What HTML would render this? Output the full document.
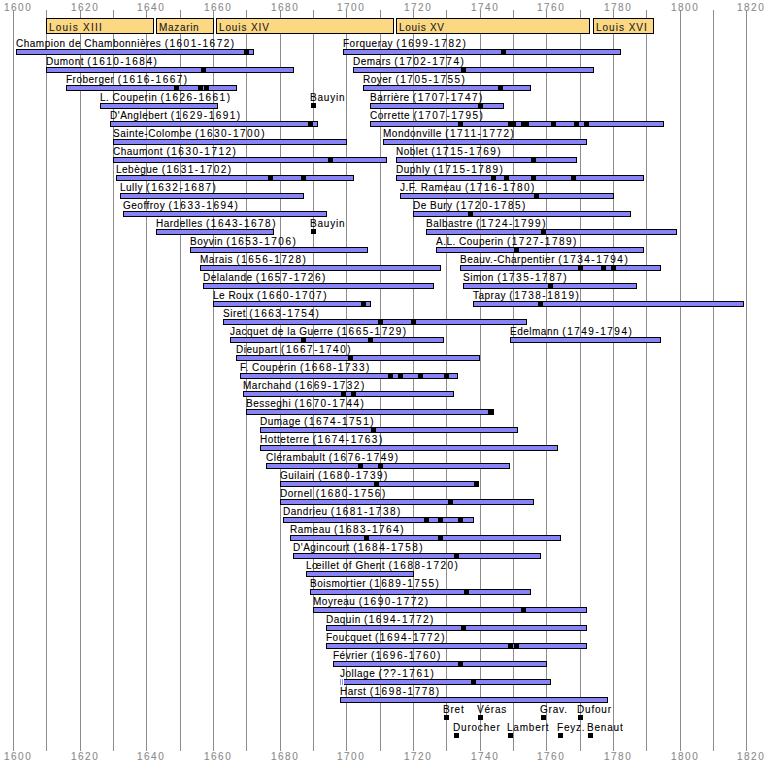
<!DOCTYPE html>
<html><head><meta charset="utf-8"><style>
html,body{margin:0;padding:0;background:#fff;}
body{width:775px;height:769px;position:relative;overflow:hidden;font-family:"Liberation Sans",sans-serif;}
.g{position:absolute;width:1px;background:#8c8c8c;top:10px;height:741px;}
.yl{position:absolute;font-size:10px;line-height:10px;color:#8a8a8a;white-space:nowrap;letter-spacing:1.5px;-webkit-text-stroke:0.1px #8a8a8a}
.rb{position:absolute;top:18px;height:14px;background:#fcd883;border:1px solid #000;}
.rt{position:absolute;font-size:10px;line-height:10px;color:#1a1a1a;white-space:nowrap;top:23px;-webkit-text-stroke:0.1px #1a1a1a}
.b{position:absolute;height:4px;background:#8884f6;border:1px solid #000;}
.l{position:absolute;font-size:10px;line-height:10px;color:#000;white-space:nowrap;letter-spacing:0.5px;-webkit-text-stroke:0.1px #000}
.l span{letter-spacing:1.5px}
.m{position:absolute;width:5px;height:6px;background:#000;}
.s{position:absolute;width:5px;height:5px;background:#000;}
</style></head><body>

<div class="g" style="left:13px"></div>
<div class="g" style="left:46px"></div>
<div class="g" style="left:80px"></div>
<div class="g" style="left:113px"></div>
<div class="g" style="left:146px"></div>
<div class="g" style="left:180px"></div>
<div class="g" style="left:213px"></div>
<div class="g" style="left:246px"></div>
<div class="g" style="left:280px"></div>
<div class="g" style="left:313px"></div>
<div class="g" style="left:346px"></div>
<div class="g" style="left:380px"></div>
<div class="g" style="left:413px"></div>
<div class="g" style="left:446px"></div>
<div class="g" style="left:480px"></div>
<div class="g" style="left:513px"></div>
<div class="g" style="left:546px"></div>
<div class="g" style="left:580px"></div>
<div class="g" style="left:613px"></div>
<div class="g" style="left:646px"></div>
<div class="g" style="left:680px"></div>
<div class="g" style="left:713px"></div>
<div class="g" style="left:746px"></div>
<div class="yl" style="left:4px;top:3px">1600</div>
<div class="yl" style="left:4px;top:752px">1600</div>
<div class="yl" style="left:71px;top:3px">1620</div>
<div class="yl" style="left:71px;top:752px">1620</div>
<div class="yl" style="left:137px;top:3px">1640</div>
<div class="yl" style="left:137px;top:752px">1640</div>
<div class="yl" style="left:204px;top:3px">1660</div>
<div class="yl" style="left:204px;top:752px">1660</div>
<div class="yl" style="left:271px;top:3px">1680</div>
<div class="yl" style="left:271px;top:752px">1680</div>
<div class="yl" style="left:337px;top:3px">1700</div>
<div class="yl" style="left:337px;top:752px">1700</div>
<div class="yl" style="left:404px;top:3px">1720</div>
<div class="yl" style="left:404px;top:752px">1720</div>
<div class="yl" style="left:471px;top:3px">1740</div>
<div class="yl" style="left:471px;top:752px">1740</div>
<div class="yl" style="left:537px;top:3px">1760</div>
<div class="yl" style="left:537px;top:752px">1760</div>
<div class="yl" style="left:604px;top:3px">1780</div>
<div class="yl" style="left:604px;top:752px">1780</div>
<div class="yl" style="left:671px;top:3px">1800</div>
<div class="yl" style="left:671px;top:752px">1800</div>
<div class="yl" style="left:737px;top:3px">1820</div>
<div class="yl" style="left:737px;top:752px">1820</div>
<div class="rb" style="left:46px;width:106px"></div>
<div class="rt" style="left:49px;letter-spacing:1.22px">Louis XIII</div>
<div class="rb" style="left:156px;width:56px"></div>
<div class="rt" style="left:159px;letter-spacing:0.67px">Mazarin</div>
<div class="rb" style="left:216px;width:176px"></div>
<div class="rt" style="left:219px;letter-spacing:0.875px">Louis XIV</div>
<div class="rb" style="left:396px;width:192px"></div>
<div class="rt" style="left:399px;letter-spacing:0.71px">Louis XV</div>
<div class="rb" style="left:593px;width:59px"></div>
<div class="rt" style="left:596px;letter-spacing:1.0px">Louis XVI</div>
<div class="l" style="left:16px;top:39px">Champion de Chambonnières <span>(1601-1672)</span></div>
<div class="b" style="left:16px;top:49px;width:236px"></div>
<div class="m" style="left:244px;top:49px"></div>
<div class="l" style="left:46px;top:57px">Dumont <span>(1610-1684)</span></div>
<div class="b" style="left:46px;top:67px;width:246px"></div>
<div class="m" style="left:201px;top:67px"></div>
<div class="l" style="left:66px;top:75px">Froberger <span>(1616-1667)</span></div>
<div class="b" style="left:66px;top:85px;width:169px"></div>
<div class="m" style="left:174px;top:85px"></div>
<div class="m" style="left:198px;top:85px"></div>
<div class="m" style="left:204px;top:85px"></div>
<div class="l" style="left:100px;top:93px">L. Couperin <span>(1626-1661)</span></div>
<div class="b" style="left:100px;top:103px;width:116px"></div>
<div class="l" style="left:110px;top:111px">D'Anglebert <span>(1629-1691)</span></div>
<div class="b" style="left:110px;top:121px;width:206px"></div>
<div class="m" style="left:308px;top:121px"></div>
<div class="l" style="left:113px;top:129px">Sainte-Colombe <span>(1630-1700)</span></div>
<div class="b" style="left:113px;top:139px;width:232px"></div>
<div class="l" style="left:113px;top:147px">Chaumont <span>(1630-1712)</span></div>
<div class="b" style="left:113px;top:157px;width:272px"></div>
<div class="m" style="left:328px;top:157px"></div>
<div class="l" style="left:116px;top:165px">Lebègue <span>(1631-1702)</span></div>
<div class="b" style="left:116px;top:175px;width:236px"></div>
<div class="m" style="left:268px;top:175px"></div>
<div class="m" style="left:301px;top:175px"></div>
<div class="l" style="left:120px;top:183px">Lully <span>(1632-1687)</span></div>
<div class="b" style="left:120px;top:193px;width:182px"></div>
<div class="l" style="left:123px;top:201px">Geoffroy <span>(1633-1694)</span></div>
<div class="b" style="left:123px;top:211px;width:202px"></div>
<div class="l" style="left:156px;top:219px">Hardelles <span>(1643-1678)</span></div>
<div class="b" style="left:156px;top:229px;width:116px"></div>
<div class="l" style="left:190px;top:237px">Boyvin <span>(1653-1706)</span></div>
<div class="b" style="left:190px;top:247px;width:176px"></div>
<div class="l" style="left:200px;top:255px">Marais <span>(1656-1728)</span></div>
<div class="b" style="left:200px;top:265px;width:239px"></div>
<div class="l" style="left:203px;top:273px">Delalande <span>(1657-1726)</span></div>
<div class="b" style="left:203px;top:283px;width:229px"></div>
<div class="l" style="left:213px;top:291px">Le Roux <span>(1660-1707)</span></div>
<div class="b" style="left:213px;top:301px;width:156px"></div>
<div class="m" style="left:361px;top:301px"></div>
<div class="l" style="left:223px;top:309px">Siret <span>(1663-1754)</span></div>
<div class="b" style="left:223px;top:319px;width:302px"></div>
<div class="m" style="left:378px;top:319px"></div>
<div class="m" style="left:411px;top:319px"></div>
<div class="l" style="left:230px;top:327px">Jacquet de la Guerre <span>(1665-1729)</span></div>
<div class="b" style="left:230px;top:337px;width:212px"></div>
<div class="m" style="left:301px;top:337px"></div>
<div class="m" style="left:368px;top:337px"></div>
<div class="l" style="left:236px;top:345px">Dieupart <span>(1667-1740)</span></div>
<div class="b" style="left:236px;top:355px;width:242px"></div>
<div class="m" style="left:348px;top:355px"></div>
<div class="l" style="left:240px;top:363px">F. Couperin <span>(1668-1733)</span></div>
<div class="b" style="left:240px;top:373px;width:216px"></div>
<div class="m" style="left:388px;top:373px"></div>
<div class="m" style="left:398px;top:373px"></div>
<div class="m" style="left:418px;top:373px"></div>
<div class="m" style="left:444px;top:373px"></div>
<div class="l" style="left:243px;top:381px">Marchand <span>(1669-1732)</span></div>
<div class="b" style="left:243px;top:391px;width:209px"></div>
<div class="m" style="left:341px;top:391px"></div>
<div class="m" style="left:351px;top:391px"></div>
<div class="l" style="left:246px;top:399px">Besseghi <span>(1670-1744)</span></div>
<div class="b" style="left:246px;top:409px;width:246px"></div>
<div class="m" style="left:488px;top:409px"></div>
<div class="l" style="left:260px;top:417px">Dumage <span>(1674-1751)</span></div>
<div class="b" style="left:260px;top:427px;width:256px"></div>
<div class="m" style="left:371px;top:427px"></div>
<div class="l" style="left:260px;top:435px">Hotteterre <span>(1674-1763)</span></div>
<div class="b" style="left:260px;top:445px;width:296px"></div>
<div class="l" style="left:266px;top:453px">Clérambault <span>(1676-1749)</span></div>
<div class="b" style="left:266px;top:463px;width:242px"></div>
<div class="m" style="left:358px;top:463px"></div>
<div class="m" style="left:378px;top:463px"></div>
<div class="l" style="left:280px;top:471px">Guilain <span>(1680-1739)</span></div>
<div class="b" style="left:280px;top:481px;width:197px"></div>
<div class="m" style="left:374px;top:481px"></div>
<div class="m" style="left:474px;top:481px"></div>
<div class="l" style="left:280px;top:489px">Dornel <span>(1680-1756)</span></div>
<div class="b" style="left:280px;top:499px;width:252px"></div>
<div class="m" style="left:448px;top:499px"></div>
<div class="l" style="left:283px;top:507px">Dandrieu <span>(1681-1738)</span></div>
<div class="b" style="left:283px;top:517px;width:189px"></div>
<div class="m" style="left:424px;top:517px"></div>
<div class="m" style="left:438px;top:517px"></div>
<div class="m" style="left:458px;top:517px"></div>
<div class="l" style="left:290px;top:525px">Rameau <span>(1683-1764)</span></div>
<div class="b" style="left:290px;top:535px;width:269px"></div>
<div class="m" style="left:364px;top:535px"></div>
<div class="m" style="left:438px;top:535px"></div>
<div class="l" style="left:293px;top:543px">D'Agincourt <span>(1684-1758)</span></div>
<div class="b" style="left:293px;top:553px;width:246px"></div>
<div class="m" style="left:454px;top:553px"></div>
<div class="l" style="left:306px;top:561px">Lœillet of Ghent <span>(1688-1720)</span></div>
<div class="b" style="left:306px;top:571px;width:106px"></div>
<div class="l" style="left:310px;top:579px">Boismortier <span>(1689-1755)</span></div>
<div class="b" style="left:310px;top:589px;width:219px"></div>
<div class="m" style="left:464px;top:589px"></div>
<div class="l" style="left:313px;top:597px">Moyreau <span>(1690-1772)</span></div>
<div class="b" style="left:313px;top:607px;width:272px"></div>
<div class="m" style="left:521px;top:607px"></div>
<div class="l" style="left:326px;top:615px">Daquin <span>(1694-1772)</span></div>
<div class="b" style="left:326px;top:625px;width:259px"></div>
<div class="m" style="left:461px;top:625px"></div>
<div class="l" style="left:326px;top:633px">Foucquet <span>(1694-1772)</span></div>
<div class="b" style="left:326px;top:643px;width:259px"></div>
<div class="m" style="left:508px;top:643px"></div>
<div class="m" style="left:514px;top:643px"></div>
<div class="l" style="left:333px;top:651px">Février <span>(1696-1760)</span></div>
<div class="b" style="left:333px;top:661px;width:212px"></div>
<div class="m" style="left:458px;top:661px"></div>
<div class="l" style="left:340px;top:669px">Jollage <span>(??-1761)</span></div>
<div class="b" style="left:344px;top:679px;width:206px;border-left:none"></div>
<div style="position:absolute;left:340px;top:679px;width:1px;height:6px;background:#9a96e0"></div>
<div style="position:absolute;left:342px;top:679px;width:1px;height:6px;background:#9a96e0"></div>
<div class="m" style="left:471px;top:679px"></div>
<div class="l" style="left:340px;top:687px">Harst <span>(1698-1778)</span></div>
<div class="b" style="left:340px;top:697px;width:266px"></div>
<div class="l" style="left:343px;top:39px">Forqueray <span>(1699-1782)</span></div>
<div class="b" style="left:343px;top:49px;width:276px"></div>
<div class="m" style="left:501px;top:49px"></div>
<div class="l" style="left:353px;top:57px">Demars <span>(1702-1774)</span></div>
<div class="b" style="left:353px;top:67px;width:239px"></div>
<div class="m" style="left:461px;top:67px"></div>
<div class="l" style="left:363px;top:75px">Royer <span>(1705-1755)</span></div>
<div class="b" style="left:363px;top:85px;width:166px"></div>
<div class="m" style="left:498px;top:85px"></div>
<div class="l" style="left:370px;top:93px">Barrière <span>(1707-1747)</span></div>
<div class="b" style="left:370px;top:103px;width:132px"></div>
<div class="m" style="left:478px;top:103px"></div>
<div class="l" style="left:370px;top:111px">Corrette <span>(1707-1795)</span></div>
<div class="b" style="left:370px;top:121px;width:292px"></div>
<div class="m" style="left:458px;top:121px"></div>
<div class="m" style="left:508px;top:121px"></div>
<div class="m" style="left:511px;top:121px"></div>
<div class="m" style="left:521px;top:121px"></div>
<div class="m" style="left:524px;top:121px"></div>
<div class="m" style="left:551px;top:121px"></div>
<div class="m" style="left:574px;top:121px"></div>
<div class="m" style="left:584px;top:121px"></div>
<div class="l" style="left:383px;top:129px">Mondonville <span>(1711-1772)</span></div>
<div class="b" style="left:383px;top:139px;width:202px"></div>
<div class="l" style="left:396px;top:147px">Noblet <span>(1715-1769)</span></div>
<div class="b" style="left:396px;top:157px;width:179px"></div>
<div class="m" style="left:531px;top:157px"></div>
<div class="l" style="left:396px;top:165px">Duphly <span>(1715-1789)</span></div>
<div class="b" style="left:396px;top:175px;width:246px"></div>
<div class="m" style="left:491px;top:175px"></div>
<div class="m" style="left:504px;top:175px"></div>
<div class="m" style="left:531px;top:175px"></div>
<div class="m" style="left:571px;top:175px"></div>
<div class="l" style="left:400px;top:183px">J.F. Rameau <span>(1716-1780)</span></div>
<div class="b" style="left:400px;top:193px;width:212px"></div>
<div class="m" style="left:534px;top:193px"></div>
<div class="l" style="left:413px;top:201px">De Bury <span>(1720-1785)</span></div>
<div class="b" style="left:413px;top:211px;width:216px"></div>
<div class="m" style="left:468px;top:211px"></div>
<div class="l" style="left:426px;top:219px">Balbastre <span>(1724-1799)</span></div>
<div class="b" style="left:426px;top:229px;width:249px"></div>
<div class="m" style="left:541px;top:229px"></div>
<div class="l" style="left:436px;top:237px">A.L. Couperin <span>(1727-1789)</span></div>
<div class="b" style="left:436px;top:247px;width:206px"></div>
<div class="m" style="left:514px;top:247px"></div>
<div class="l" style="left:460px;top:255px">Beauv.-Charpentier <span>(1734-1794)</span></div>
<div class="b" style="left:460px;top:265px;width:199px"></div>
<div class="m" style="left:578px;top:265px"></div>
<div class="m" style="left:601px;top:265px"></div>
<div class="m" style="left:611px;top:265px"></div>
<div class="l" style="left:463px;top:273px">Simon <span>(1735-1787)</span></div>
<div class="b" style="left:463px;top:283px;width:172px"></div>
<div class="m" style="left:548px;top:283px"></div>
<div class="l" style="left:473px;top:291px">Tapray <span>(1738-1819)</span></div>
<div class="b" style="left:473px;top:301px;width:269px"></div>
<div class="m" style="left:538px;top:301px"></div>
<div class="l" style="left:510px;top:327px">Edelmann <span>(1749-1794)</span></div>
<div class="b" style="left:510px;top:337px;width:149px"></div>
<div class="l" style="left:310px;top:93px;letter-spacing:0.8px">Bauyin</div>
<div class="s" style="left:311px;top:103px"></div>
<div class="l" style="left:310px;top:219px;letter-spacing:0.8px">Bauyin</div>
<div class="s" style="left:311px;top:229px"></div>
<div class="l" style="left:443px;top:705px;letter-spacing:0.8px">Bret</div>
<div class="s" style="left:444px;top:715px"></div>
<div class="l" style="left:477px;top:705px;letter-spacing:0.8px">Véras</div>
<div class="s" style="left:478px;top:715px"></div>
<div class="l" style="left:540px;top:705px;letter-spacing:0.8px">Grav.</div>
<div class="s" style="left:541px;top:715px"></div>
<div class="l" style="left:577px;top:705px;letter-spacing:0.8px">Dufour</div>
<div class="s" style="left:578px;top:715px"></div>
<div class="l" style="left:453px;top:723px;letter-spacing:0.8px">Durocher</div>
<div class="s" style="left:454px;top:733px"></div>
<div class="l" style="left:507px;top:723px;letter-spacing:0.8px">Lambert</div>
<div class="s" style="left:508px;top:733px"></div>
<div class="l" style="left:557px;top:723px;letter-spacing:0.8px">Feyz.</div>
<div class="s" style="left:558px;top:733px"></div>
<div class="l" style="left:587px;top:723px;letter-spacing:0.8px">Benaut</div>
<div class="s" style="left:588px;top:733px"></div>
</body></html>
